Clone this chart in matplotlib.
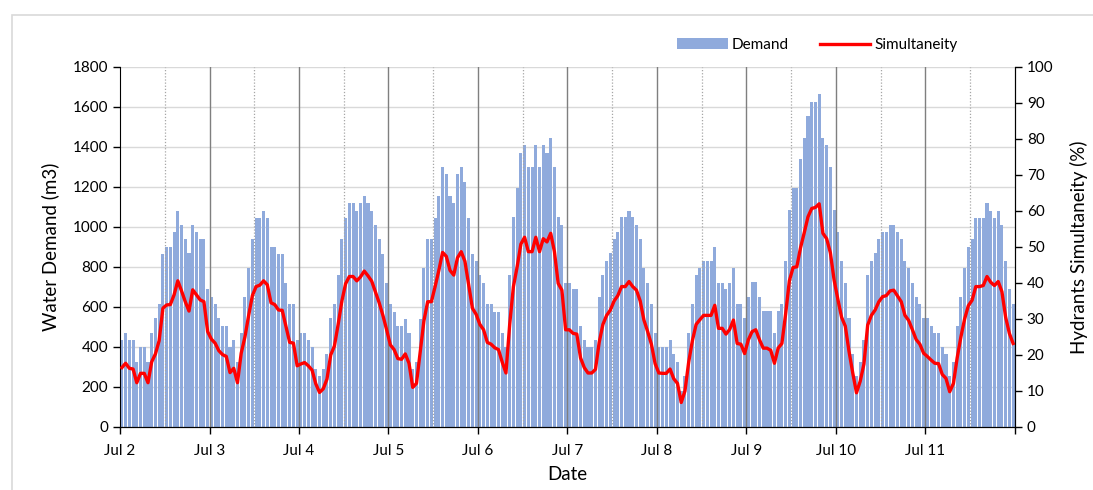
import numpy as np
import matplotlib
matplotlib.use("Agg")
import matplotlib.pyplot as plt
from matplotlib.lines import Line2D
from matplotlib.patches import Patch, Rectangle

plt.rcParams['font.family'] = ['Lato', 'DejaVu Sans']

day_labels = ['Jul 2', 'Jul 3', 'Jul 4', 'Jul 5', 'Jul 6',
              'Jul 7', 'Jul 8', 'Jul 9', 'Jul 10', 'Jul 11']

# hourly water demand (m3), one row per day
demand = [
    435, 472, 435, 435, 327, 398, 398, 327, 472, 543, 615, 865, 902, 902, 973, 1082, 1010, 938, 870, 1010, 973, 938, 938, 688,
    652, 615, 543, 507, 507, 402, 435, 327, 472, 652, 793, 938, 1043, 1043, 1082, 1043, 902, 902, 865, 865, 722, 615, 615, 435,
    472, 472, 435, 398, 290, 255, 290, 363, 543, 615, 760, 938, 1047, 1118, 1118, 1082, 1118, 1155, 1118, 1082, 1010, 938, 865, 722,
    615, 577, 505, 505, 540, 468, 288, 327, 540, 793, 938, 938, 1043, 1155, 1298, 1265, 1155, 1118, 1265, 1298, 1227, 1043, 865, 832,
    760, 722, 615, 615, 577, 577, 472, 398, 760, 1048, 1193, 1372, 1410, 1298, 1298, 1410, 1298, 1410, 1372, 1443, 1298, 1048, 1010, 722,
    722, 688, 688, 505, 435, 398, 398, 435, 652, 760, 832, 868, 938, 977, 1048, 1048, 1082, 1048, 1010, 938, 793, 722, 615, 472,
    398, 398, 398, 435, 363, 327, 180, 255, 472, 615, 760, 793, 832, 832, 832, 902, 722, 722, 688, 722, 793, 615, 615, 543,
    652, 723, 723, 652, 580, 580, 580, 472, 580, 615, 832, 1085, 1193, 1193, 1338, 1443, 1555, 1627, 1627, 1663, 1443, 1410, 1302, 1085,
    977, 832, 722, 543, 363, 255, 327, 435, 760, 832, 868, 938, 977, 977, 1010, 1010, 977, 938, 832, 793, 722, 652, 615, 543,
    543, 505, 472, 472, 398, 363, 255, 327, 505, 652, 793, 902, 938, 1043, 1043, 1043, 1118, 1082, 1043, 1082, 1010, 832, 688, 615,
]

# hydrants simultaneity (%), one row per day
simultaneity = [
    16.5, 17.7, 16.3, 16.1, 12.3, 14.9, 14.9, 12.3, 18.1, 20.3, 24.0, 33.0, 33.9, 34.0, 36.7, 40.6, 37.8, 34.8, 32.2, 38.1, 36.7, 35.3, 34.8, 26.5,
    24.4, 23.3, 21.2, 20.1, 19.6, 15.1, 16.3, 12.3, 20.5, 25.0, 31.0, 36.5, 39.0, 39.4, 40.6, 39.5, 34.5, 34.0, 32.5, 32.4, 28.0, 23.5, 23.3, 17.0,
    17.5, 17.9, 17.0, 15.8, 12.0, 9.6, 10.6, 13.3, 20.0, 22.5, 28.5, 35.0, 39.8, 41.8, 41.8, 40.6, 41.7, 43.3, 42.0, 40.5, 37.5, 34.5, 31.0, 27.0,
    22.8, 21.5, 19.0, 18.8, 20.3, 17.7, 11.0, 12.1, 20.8, 29.5, 34.8, 34.8, 39.0, 43.5, 48.5, 47.4, 43.5, 42.2, 47.0, 48.7, 46.0, 39.5, 33.0, 31.3,
    28.5, 27.0, 23.5, 23.0, 22.0, 21.5, 18.0, 15.0, 28.5, 39.0, 44.5, 50.8, 52.7, 48.7, 48.7, 52.7, 48.7, 52.3, 51.4, 53.8, 48.7, 39.9, 38.0, 27.0,
    27.0, 26.0, 25.8, 19.2, 16.5, 15.0, 15.0, 16.0, 23.5, 28.5, 31.0, 32.5, 35.0, 36.5, 39.0, 39.0, 40.4, 39.0, 38.0, 35.0, 29.7, 26.5, 23.0, 17.6,
    15.0, 14.9, 14.9, 16.1, 13.4, 12.1, 6.8, 10.0, 18.0, 24.0, 28.5, 29.8, 31.0, 31.0, 31.0, 33.8, 27.4, 27.4, 25.8, 27.1, 29.7, 23.2, 23.0, 20.4,
    24.2, 26.5, 27.0, 24.2, 21.9, 21.9, 21.3, 17.7, 21.9, 23.2, 31.4, 40.6, 44.3, 44.5, 49.8, 54.0, 58.4, 60.7, 61.0, 62.0, 53.8, 52.3, 48.4, 40.8,
    35.5, 30.5, 28.0, 21.0, 15.0, 9.5, 12.7, 17.5, 28.3, 31.0, 32.5, 34.8, 36.2, 36.5, 37.8, 38.0, 36.4, 34.8, 31.0, 29.6, 27.0, 24.3, 23.0, 20.5,
    19.6, 18.6, 17.7, 17.6, 14.6, 13.5, 9.8, 12.1, 19.2, 25.0, 30.0, 33.7, 35.2, 39.0, 39.0, 39.3, 41.8, 40.2, 39.3, 40.4, 37.6, 30.5, 26.0, 23.2,
]

hours = np.arange(len(demand)) + 0.5
n_days = len(day_labels)

fig = plt.figure(figsize=(10.93, 4.90), dpi=100)
ax = fig.add_axes([0.1098, 0.1286, 0.8188, 0.7347])
ax2 = ax.twinx()

ax.set_zorder(1)
ax2.set_zorder(2)
ax.patch.set_visible(False)

# gridlines: horizontal behind the bars, day / midday lines over them
for v in range(0, 1801, 200):
    ax.axhline(v, color='#d9d9d9', lw=1.0, zorder=0)
for d in range(1, n_days):
    ax.axvline(d * 24, color='#7f7f7f', lw=1.0, zorder=3)
for d in range(n_days):
    ax.axvline(d * 24 + 12, color='#a6a6a6', lw=0.9, ls=(0, (1, 1.5)), zorder=3)

ax.bar(hours, demand, width=0.82, color='#8faadc', zorder=2)
ax2.plot(hours, simultaneity, color='#ff0000', lw=2.4, solid_joinstyle='round')

ax.set_xlim(0, 24 * n_days)
ax.set_ylim(0, 1800)
ax2.set_ylim(0, 100)

ax.set_xticks(np.arange(0, 24 * n_days + 1, 24))
ax.set_xticklabels(day_labels + [''])
ax.set_yticks(range(0, 1801, 200))
ax2.set_yticks(range(0, 101, 10))

for a in (ax, ax2):
    a.spines['top'].set_visible(False)
    a.tick_params(direction='out', length=5, width=1, labelsize=11, colors='black')
ax.tick_params(axis='x', pad=7)
ax2.spines['left'].set_visible(False)
ax2.spines['right'].set_color('black')
ax.spines['left'].set_color('black')
ax.spines['bottom'].set_color('black')

ax.set_ylabel('Water Demand (m3)', fontsize=13.5, labelpad=10)
ax2.set_ylabel('Hydrants Simultaneity (%)', fontsize=13.5, labelpad=12)
ax.set_xlabel('Date', fontsize=13.5, labelpad=6)

handles = [Patch(facecolor='#8faadc', edgecolor='none'),
           Line2D([0], [0], color='#ff0000', lw=2.4)]
fig.legend(handles, ['Demand', 'Simultaneity'], loc='center',
           bbox_to_anchor=(0.748, 0.908), ncol=2, frameon=False,
           fontsize=11, handlelength=3.3, handletextpad=0.3, columnspacing=2.0)

# light chart border
fig.patches.append(Rectangle((0.011, -0.1), 1.2, 1.07, transform=fig.transFigure,
                             fill=False, edgecolor='#d9d9d9', lw=1.2))

fig.savefig('out.png', dpi=100)
